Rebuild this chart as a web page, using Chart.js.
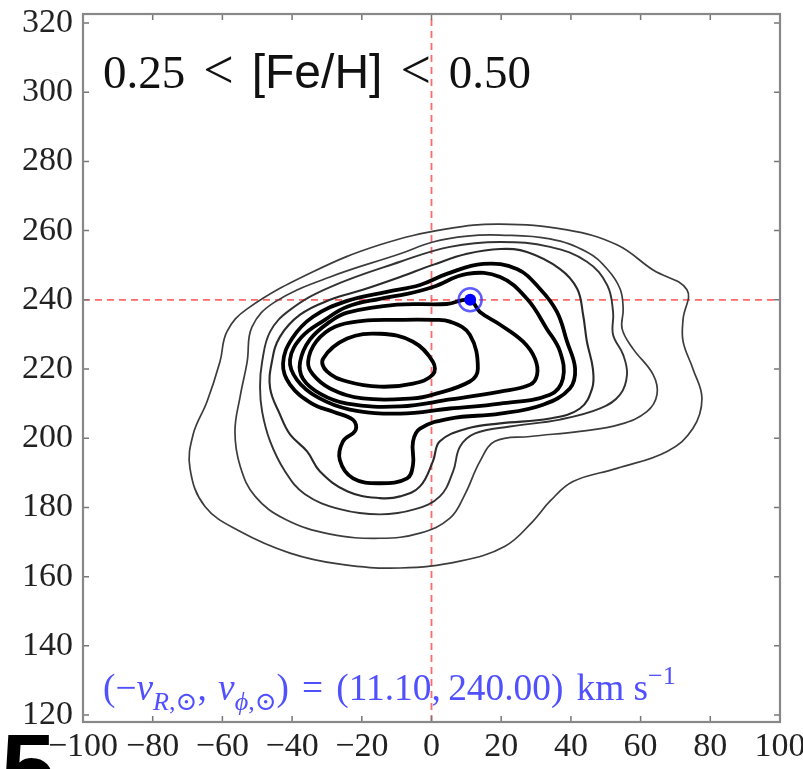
<!DOCTYPE html>
<html>
<head>
<meta charset="utf-8">
<script src="https://cdn.jsdelivr.net/npm/chart.js@4.4.1/dist/chart.umd.min.js"></script>
<style>
  html, body { margin: 0; padding: 0; background: #fff; }
</style>
</head>
<body>
<canvas id="c" width="803" height="769"></canvas>
<script>
// velocity plane (-v_R, v_phi) density contours for 0.25 < [Fe/H] < 0.50
const xRange = [-100, 100]
const yRange = [118, 322.6]
const tickStep = 20
const sunVel = [11.1, 240.0]
const refLineX = 0
const refLineY = 240

// contour levels, outermost first (km/s)
const level1 = [[19.7,261.9],[38.9,260.2],[53.2,255.9],[63.6,248.6],[73.3,242.9],[72.2,234.5],[72.2,227.9],[75.0,220.1],[77.6,211.5],[75.0,202.8],[67.6,196.2],[53.2,191.3],[40.6,187.5],[34.0,181.8],[29.1,176.0],[21.1,168.8],[8.2,164.5],[-9.0,162.5],[-26.3,163.6],[-40.6,166.8],[-55.0,173.1],[-65.0,180.3],[-69.3,191.3],[-68.4,201.1],[-64.4,210.6],[-60.7,222.1],[-58.7,230.8],[-52.9,237.4],[-34.0,248.1],[-14.8,255.9],[4.4,260.5]]
const level2 = [[-52.9,222.1],[-51.5,232.2],[-44.9,239.4],[-29.1,246.6],[-9.0,253.3],[0.4,256.7],[10.2,258.4],[19.7,258.7],[34.0,257.6],[44.6,253.8],[50.4,248.9],[54.1,243.2],[55.0,237.4],[54.7,231.6],[57.8,225.9],[63.6,218.4],[64.7,212.6],[61.8,207.7],[54.1,204.0],[42.6,202.0],[28.3,200.5],[18.2,199.1],[13.9,193.3],[9.6,183.8],[5.3,176.9],[-3.3,172.6],[-14.8,171.1],[-29.1,172.3],[-42.0,176.6],[-50.6,183.2],[-54.9,191.9],[-56.4,202.0],[-54.9,212.1]]
const level3 = [[-48.6,222.1],[-46.3,230.8],[-40.6,237.1],[-29.1,243.7],[-9.0,251.0],[5.3,255.3],[19.7,256.7],[34.0,255.3],[44.6,251.0],[50.4,244.3],[52.1,236.5],[52.1,229.9],[55.0,224.1],[56.1,218.4],[54.1,212.6],[48.4,208.6],[36.9,205.4],[22.5,203.4],[12.5,201.4],[8.2,197.6],[6.2,190.4],[2.4,183.2],[-4.7,179.5],[-14.8,178.0],[-26.3,179.5],[-36.3,183.8],[-42.0,190.4],[-46.3,199.1],[-48.6,207.7],[-49.2,214.9]]
const level4 = [[-45.8,222.1],[-43.5,229.3],[-37.7,235.7],[-29.1,240.0],[-19.7,242.9],[-9.0,246.6],[0.4,250.1],[10.2,253.3],[19.7,254.7],[27.4,253.8],[36.9,248.9],[41.8,243.2],[43.5,235.7],[44.6,227.9],[46.3,220.1],[46.1,214.4],[42.6,208.6],[34.0,205.7],[19.7,204.3],[10.2,202.8],[2.4,199.1],[0.4,193.3],[-3.3,186.1],[-9.0,183.2],[-14.8,182.7],[-24.2,184.7],[-32.0,190.4],[-35.7,196.2],[-40.6,201.1],[-43.5,206.9],[-46.3,214.4]]
const level5 = [[-42.6,221.6],[-40.0,228.8],[-34.0,235.1],[-24.2,239.7],[-12.8,242.3],[-3.3,244.3],[4.4,247.5],[14.8,250.4],[24.5,248.9],[31.1,243.2],[36.0,236.5],[38.9,227.9],[41.2,220.1],[39.7,214.4],[32.0,209.7],[19.7,207.1],[5.3,205.7],[-3.3,202.8],[-5.3,199.1],[-5.3,192.4],[-7.0,188.4],[-14.8,187.0],[-22.5,188.4],[-26.3,193.7],[-25.4,199.1],[-21.8,202.3],[-22.5,205.3],[-28.0,207.6],[-34.3,210.0],[-40.6,215.5]]
const level6 = [[-40.6,222.7],[-37.2,229.3],[-30.6,234.2],[-24.2,238.0],[-14.8,240.3],[-7.0,241.7],[0.4,243.7],[10.2,247.5],[19.7,246.6],[27.4,240.3],[33.1,231.6],[36.9,225.0],[37.7,217.2],[34.0,212.6],[19.7,210.0],[5.3,208.6],[-9.0,207.1],[-23.4,208.3],[-32.6,211.8],[-38.6,216.9]]
const level7 = [[-37.7,222.1],[-34.9,228.5],[-29.1,233.7],[-24.2,236.3],[-9.9,238.6],[4.4,238.8],[11.0,240.0],[13.9,236.5],[19.7,232.8],[26.3,227.9],[29.7,223.0],[30.3,218.4],[28.3,215.5],[19.7,213.5],[5.3,211.2],[-9.0,209.2],[-24.2,210.0],[-32.0,212.9],[-36.9,217.2]]
const level8 = [[-35.4,222.1],[-33.1,227.9],[-27.7,232.2],[-19.7,233.9],[-9.9,234.2],[0.4,234.2],[5.3,233.7],[11.0,229.9],[13.3,220.1],[11.0,216.4],[0.4,212.6],[-5.3,211.5],[-19.7,211.5],[-29.1,214.4],[-34.0,218.4]]
const level9 = [[-31.1,223.0],[-24.2,228.8],[-14.8,230.2],[-5.3,227.9],[0.4,222.1],[0.4,218.4],[-5.3,215.8],[-14.8,214.9],[-24.2,216.4],[-30.0,219.3]]

const levels = [level1, level2, level3, level4, level5, level6, level7, level8, level9]
const levelWidths = [1.7, 1.7, 1.9, 2.1, 3.8, 3.8, 3.8, 3.8, 3.8]
const levelColors = ['#3c3c3c', '#3c3c3c', '#333', '#2a2a2a', '#000', '#000', '#000', '#000', '#000']

const SERIF = '"Liberation Serif", "DejaVu Serif", serif'
const SANS = '"Liberation Sans", Arial, sans-serif'

// closed curve: pad with wrap-around points so the spline is smooth at the join,
// then hide the two padding segments
function closedContour(points, color, width) {
  const n = points.length
  const pts = [points[n - 1], ...points, points[0], points[1]]
  return {
    data: pts.map(([x, y]) => ({ x, y })),
    showLine: true,
    borderColor: color,
    borderWidth: width,
    pointRadius: 0,
    tension: 0.4,
    order: 5,
    segment: {
      borderColor: c => (c.p0DataIndex === 0 || c.p0DataIndex === n + 1) ? 'rgba(0,0,0,0)' : undefined
    }
  }
}

const datasets = []

datasets.push({
  data: [{ x: xRange[0], y: refLineY }, { x: xRange[1], y: refLineY }],
  showLine: true, borderColor: 'rgba(255,80,80,0.85)', borderWidth: 1.8,
  borderDash: [7, 5], pointRadius: 0, order: 10
})
datasets.push({
  data: [{ x: refLineX, y: yRange[0] }, { x: refLineX, y: yRange[1] }],
  showLine: true, borderColor: 'rgba(255,80,80,0.85)', borderWidth: 1.8,
  borderDash: [7, 5], pointRadius: 0, order: 10
})

levels.forEach((lv, i) => datasets.push(closedContour(lv, levelColors[i], levelWidths[i])))

// sun symbol
datasets.push({
  data: [{ x: sunVel[0], y: sunVel[1] }],
  pointRadius: 11.5, pointBorderWidth: 2.5,
  pointBorderColor: 'rgba(40,40,255,0.75)', pointBackgroundColor: 'rgba(0,0,0,0)', order: 1
})
datasets.push({
  data: [{ x: sunVel[0], y: sunVel[1] }],
  pointRadius: 6, pointBorderWidth: 0,
  pointBackgroundColor: '#0000ff', order: 0
})

const decor = {
  id: 'decor',
  afterDraw(chart) {
    const { ctx, chartArea: a, scales } = chart
    ctx.save()

    // inward ticks on all four sides
    ctx.strokeStyle = '#777'
    ctx.lineWidth = 1.5
    const tl = 6
    scales.x.ticks.forEach(t => {
      const px = scales.x.getPixelForValue(t.value)
      ctx.beginPath()
      ctx.moveTo(px, a.bottom); ctx.lineTo(px, a.bottom - tl)
      ctx.moveTo(px, a.top); ctx.lineTo(px, a.top + tl)
      ctx.stroke()
    })
    scales.y.ticks.forEach(t => {
      const py = scales.y.getPixelForValue(t.value)
      ctx.beginPath()
      ctx.moveTo(a.left, py); ctx.lineTo(a.left + tl, py)
      ctx.moveTo(a.right, py); ctx.lineTo(a.right - tl, py)
      ctx.stroke()
    })

    // frame
    ctx.strokeStyle = '#888'
    ctx.lineWidth = 2.2
    ctx.strokeRect(a.left, a.top, a.right - a.left, a.bottom - a.top)

    // metallicity bin label
    ctx.fillStyle = '#111'
    ctx.textBaseline = 'alphabetic'
    const title = [
      ['0.25', `47px ${SERIF}`], ['<', `54px ${SERIF}`], ['[Fe/H]', `48px ${SANS}`],
      ['<', `54px ${SERIF}`], ['0.50', `47px ${SERIF}`]
    ]
    let x = a.left + 20
    title.forEach(([t, f]) => {
      ctx.font = f
      ctx.fillText(t, x, 88)
      x += ctx.measureText(t).width + 18
    })

    // solar motion annotation, mathtext-like runs
    const runs = [
      { t: '(' }, { t: '\u2212' }, { t: 'v', it: 1 }, { t: 'R', it: 1, sub: 1 }, { t: ',\u2299', sub: 1 },
      { t: ',', gap: 0.3 }, { t: 'v', it: 1 }, { t: '\u03d5', it: 1, sub: 1 }, { t: ',\u2299', sub: 1 },
      { t: ')', gap: 0.35 }, { t: '=', gap: 0.35 }, { t: '(11.10,', gap: 0.2 }, { t: '240.00)', gap: 0.35 },
      { t: 'km', gap: 0.25 }, { t: 's' }, { t: '\u22121', sup: 1 }
    ]
    const layout = (size, draw) => {
      let cx = a.left + 20
      runs.forEach(r => {
        const s = (r.sub || r.sup) ? size * 0.7 : size
        ctx.font = `${r.it ? 'italic ' : ''}${s}px ${SERIF}`
        const dy = r.sub ? size * 0.28 : r.sup ? -size * 0.42 : 0
        if (draw) ctx.fillText(r.t, cx, 700 + dy)
        cx += ctx.measureText(r.t).width + (r.gap || 0) * size
      })
      return cx - (a.left + 20)
    }
    const base = 30
    const size = base * 573 / layout(base, false)
    ctx.fillStyle = '#5050ff'
    layout(size, true)

    // panel number (cut off by the canvas edge)
    ctx.fillStyle = '#000'
    ctx.font = `bold 98px ${SANS}`
    ctx.fillText('5', 1, 803)

    ctx.restore()
  }
}

const tickFont = { family: SERIF, size: 34 }
const minus = v => String(v).replace('-', '\u2212')

new Chart(document.getElementById('c'), {
  type: 'scatter',
  data: { datasets },
  options: {
    responsive: false,
    animation: false,
    events: [],
    layout: { padding: { top: 10, right: 23, left: 0, bottom: 0 } },
    plugins: { legend: { display: false }, tooltip: { enabled: false } },
    scales: {
      x: {
        type: 'linear', min: xRange[0], max: xRange[1],
        grid: { display: false, drawTicks: false },
        border: { display: false },
        ticks: { stepSize: tickStep, font: tickFont, color: '#222', padding: 5, maxRotation: 0, autoSkip: false, callback: minus },
        afterFit: s => { s.height = 47; s.paddingLeft = 0; s.paddingRight = 0 }
      },
      y: {
        type: 'linear', min: yRange[0], max: yRange[1],
        grid: { display: false, drawTicks: false },
        border: { display: false },
        ticks: { stepSize: tickStep, includeBounds: false, font: tickFont, color: '#222', padding: 10, autoSkip: false, callback: minus },
        afterFit: s => { s.width = 83; s.paddingTop = 0; s.paddingBottom = 0 }
      }
    }
  },
  plugins: [decor]
})
</script>
</body>
</html>
